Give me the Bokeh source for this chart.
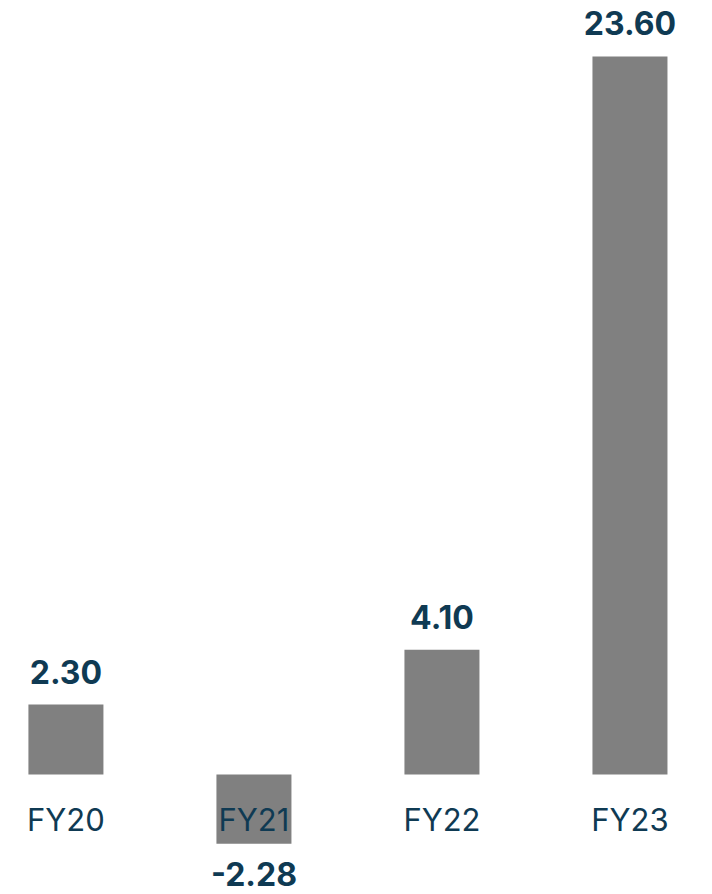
from bokeh.plotting import figure
from bokeh.models import Range1d, ColumnDataSource
from bokeh.core.properties import value
from bokeh.embed import file_html
from bokeh.resources import INLINE

categories = ["FY20", "FY21", "FY22", "FY23"]
values = [2.30, -2.28, 4.10, 23.60]
value_labels = ["2.30", "-2.28", "4.10", "23.60"]

xs = list(range(len(categories)))
src = ColumnDataSource(dict(
    x=xs, top=values, cat=categories, lab=value_labels,
    zero=[0] * len(values),
    off=[-33 if v >= 0 else 30 for v in values],
))

TEXT = "#0f3a53"
FONT = "Inter"

p = figure(width=712, height=894, output_backend="svg", toolbar_location=None,
           x_range=Range1d(-0.348, 3.439), y_range=Range1d(-3.945, 25.44),
           min_border=0, outline_line_color=None)
p.axis.visible = False
p.grid.visible = False
p.background_fill_color = "white"
p.border_fill_color = "white"

p.vbar(x="x", top="top", bottom=0, width=0.399, source=src,
       fill_color="#808080", line_color=None)

p.text(x="x", y="top", text="lab", source=src, y_offset="off",
       text_align="center", text_baseline="middle", text_line_height=1.0,
       text_font=value(FONT), text_font_style="bold",
       text_font_size="32px", text_color=TEXT)

p.text(x="x", y="zero", text="cat", source=src, y_offset=45,
       text_align="center", text_baseline="middle", text_line_height=1.0,
       text_font=value(FONT), text_font_size="31px", text_color=TEXT)

open("out.html", "w").write(file_html(p, INLINE))
